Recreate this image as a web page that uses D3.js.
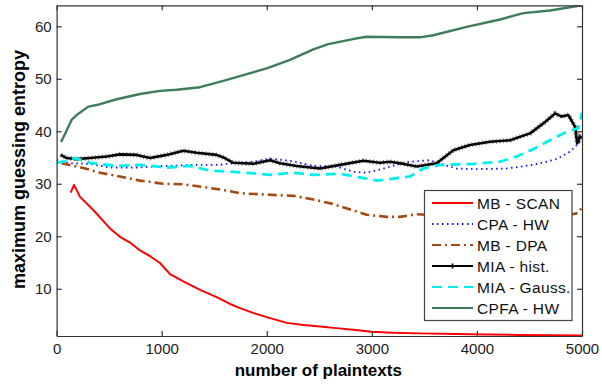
<!DOCTYPE html>
<html>
<head>
<meta charset="utf-8">
<script src="https://cdn.jsdelivr.net/npm/d3@7"></script>
<style>
  html, body { margin: 0; padding: 0; background: #fff; }
  svg { display: block; font-family: "Liberation Sans", Arial, sans-serif; }
</style>
</head>
<body>
<svg id="chart" width="602" height="385"></svg>
<script>
// Guessing entropy curves: [number of plaintexts, max guessing entropy]
const mbScan = [[134,28.3],[166,29.8],[223,27.5],[349,25.0],[508,21.5],[603,19.9],[699,18.8],[794,17.3],[889,16.2],[984,14.9],[1079,12.8],[1206,11.4],[1365,9.8],[1523,8.4],[1650,7.1],[1745,6.3],[1870,5.4],[1999,4.6],[2190,3.5],[2350,3.1],[2507,2.8],[2660,2.5],[2824,2.2],[2998,1.8],[3200,1.6],[3458,1.5],[3800,1.4],[4100,1.3],[4400,1.2],[4700,1.15],[5000,1.1]];
const cpaHw = [[0,34.5],[128,33.9],[318,33.8],[508,33.1],[762,33.1],[1048,33.4],[1301,33.6],[1555,33.6],[1618,33.8],[1872,34.2],[2031,34.8],[2250,34.3],[2443,33.4],[2665,33.3],[2824,32.3],[2951,32.1],[3110,32.9],[3268,33.8],[3363,34.2],[3553,34.5],[3649,33.8],[3808,32.9],[3998,32.8],[4284,32.9],[4536,33.6],[4759,34.7],[4886,36.1],[4965,37.7],[5000,38.5]];
const mbDpa = [[48,33.9],[254,33.0],[413,32.1],[603,31.4],[794,30.6],[1016,30.0],[1206,29.9],[1396,29.4],[1555,28.9],[1618,28.7],[1745,28.2],[2031,27.9],[2253,27.7],[2443,27.0],[2602,26.3],[2824,24.9],[2951,24.1],[3141,23.7],[3268,23.7],[3427,24.2],[3700,23.9],[4000,23.8],[4300,23.8],[4600,23.9],[4850,24.0],[4961,24.4],[5000,25.5]];
const miaHist = [[39,35.5],[96,34.9],[191,34.7],[318,34.9],[476,35.2],[603,35.6],[762,35.5],[889,34.9],[1048,35.5],[1206,36.3],[1333,35.9],[1523,35.5],[1600,34.9],[1682,34.0],[1872,33.8],[2031,34.5],[2126,33.9],[2285,33.4],[2507,32.9],[2697,33.6],[2919,34.4],[3078,34.0],[3173,34.2],[3268,33.9],[3427,33.3],[3617,33.9],[3776,36.4],[3934,37.4],[4125,38.0],[4315,38.3],[4506,39.6],[4632,41.5],[4744,43.4],[4807,42.8],[4870,43.1],[4933,40.9],[4955,37.7],[4978,39.0],[5000,38.7]];
const miaGauss = [[0,34.0],[64,34.2],[175,34.9],[318,34.0],[572,33.4],[794,33.6],[1048,33.1],[1270,33.4],[1460,32.5],[1650,32.3],[1872,32.0],[2031,31.7],[2253,32.1],[2443,31.7],[2697,31.9],[2887,31.2],[3046,30.6],[3205,31.0],[3363,31.4],[3490,32.9],[3649,33.6],[3967,33.8],[4220,34.2],[4379,35.2],[4537,36.6],[4696,38.3],[4854,39.9],[4965,40.6],[5000,43.5]];
const cpfaHw = [[40,38.0],[51,38.3],[144,42.2],[191,43.1],[302,44.7],[381,45.0],[572,46.1],[794,47.1],[984,47.7],[1143,47.9],[1365,48.4],[1587,49.6],[1777,50.7],[1999,52.0],[2221,53.6],[2443,55.6],[2586,56.6],[2633,56.8],[2856,57.7],[2951,58.0],[3268,57.9],[3458,57.9],[3585,58.3],[3903,59.9],[4220,61.3],[4442,62.5],[4696,63.0],[5000,64.0]];

const xTicks = [0, 1000, 2000, 3000, 4000, 5000];
const yTicks = [10, 20, 30, 40, 50, 60];
const seriesNames = ["MB - SCAN", "CPA - HW", "MB - DPA", "MIA - hist.", "MIA - Gauss.", "CPFA - HW"];

const svg = d3.select("#chart");
const plotLeft = 56.6, plotRight = 582, plotTop = 5.3, plotBottom = 336;

const x = d3.scaleLinear().domain([0, 5000]).range([plotLeft, plotRight]);
const y = d3.scaleLinear().domain([1, 64]).range([plotBottom, plotTop]);

const styles = [
  { data: mbScan,   color: "#ff0000", width: 2,   dash: null },
  { data: cpaHw,    color: "#1010ff", width: 1.8, dash: "1.5,3.5" },
  { data: mbDpa,    color: "#a8470f", width: 2.6, dash: "9,4,2,4" },
  { data: miaHist,  color: "#000000", width: 2.6, dash: null, marker: true },
  { data: miaGauss, color: "#00f0f0", width: 2.8, dash: "10,6" },
  { data: cpfaHw,   color: "#3d7d5c", width: 2.4, dash: null }
];

const line = d3.line().x(d => x(d[0])).y(d => y(d[1]));

svg.append("defs").append("clipPath").attr("id", "clip")
  .append("rect").attr("x", plotLeft).attr("y", plotTop)
  .attr("width", plotRight - plotLeft).attr("height", plotBottom - plotTop);

const curves = svg.append("g").attr("clip-path", "url(#clip)");
styles.forEach(s => {
  const p = curves.append("path")
    .datum(s.data)
    .attr("d", line)
    .attr("fill", "none")
    .attr("stroke", s.color)
    .attr("stroke-width", s.width)
    .attr("stroke-linejoin", "round");
  if (s.dash) p.attr("stroke-dasharray", s.dash);
  if (s.marker) {
    // dense "+" markers give the hist. curve its fuzzy look
    curves.append("path")
      .datum(s.data)
      .attr("d", line)
      .attr("fill", "none")
      .attr("stroke", "#222")
      .attr("stroke-width", 5)
      .attr("stroke-dasharray", "1,2.5")
      .attr("opacity", 0.55);
  }
});

// Axes box with inward ticks on all four sides
const axisColor = "#333";
const xAxisB = d3.axisBottom(x).tickValues(xTicks).tickFormat(d3.format("d"))
  .tickSizeInner(-5).tickSizeOuter(0).tickPadding(7);
const xAxisT = d3.axisTop(x).tickValues(xTicks).tickSizeInner(-5).tickSizeOuter(0).tickFormat("");
const yAxisL = d3.axisLeft(y).tickValues(yTicks).tickFormat(d3.format("d"))
  .tickSizeInner(-5).tickSizeOuter(0).tickPadding(5);
const yAxisR = d3.axisRight(y).tickValues(yTicks).tickSizeInner(-5).tickSizeOuter(0).tickFormat("");

const gB = svg.append("g").attr("transform", `translate(0,${plotBottom})`).call(xAxisB);
const gT = svg.append("g").attr("transform", `translate(0,${plotTop})`).call(xAxisT);
const gL = svg.append("g").attr("transform", `translate(${plotLeft},0)`).call(yAxisL);
const gR = svg.append("g").attr("transform", `translate(${plotRight},0)`).call(yAxisR);
[gB, gT, gL, gR].forEach(g => {
  g.selectAll(".domain").attr("stroke", axisColor).attr("stroke-width", 1.2);
  g.selectAll(".tick line").attr("stroke", axisColor).attr("stroke-width", 1.2);
  g.selectAll(".tick text").attr("fill", "#222").style("font-size", "15px")
    .style("font-family", "'Liberation Sans', Arial, sans-serif");
});

// Axis titles
svg.append("text")
  .attr("x", (plotLeft + plotRight) / 2 - 1).attr("y", 376)
  .attr("text-anchor", "middle")
  .style("font-size", "17px").style("font-weight", "bold").attr("fill", "#000")
  .text("number of plaintexts");
svg.append("text")
  .attr("transform", `translate(25,${(52 + 287) / 2}) rotate(-90)`)
  .attr("text-anchor", "middle")
  .style("font-size", "18px").style("font-weight", "bold").attr("fill", "#000")
  .text("maximum guessing entropy");

// Legend
const lg = svg.append("g");
lg.append("rect")
  .attr("x", 424.5).attr("y", 190.5).attr("width", 147.5).attr("height", 130)
  .attr("fill", "#fff").attr("stroke", "#444").attr("stroke-width", 1.2);
const rowY = d3.scalePoint().domain(seriesNames).range([203, 308]);
seriesNames.forEach((name, i) => {
  const s = styles[i];
  const yy = rowY(name);
  const l = lg.append("line")
    .attr("x1", 432).attr("x2", 473).attr("y1", yy).attr("y2", yy)
    .attr("stroke", s.color).attr("stroke-width", Math.min(s.width, 2));
  if (s.dash) l.attr("stroke-dasharray", s.dash);
  if (s.marker) {
    lg.append("path")
      .attr("d", d3.symbol(d3.symbolCross, 14)())
      .attr("transform", `translate(452.5,${yy})`)
      .attr("fill", "#000");
  }
  lg.append("text")
    .attr("x", 477).attr("y", yy).attr("dy", "0.36em")
    .style("font-size", "15.5px").style("letter-spacing", "0.35px").attr("fill", "#111")
    .text(name);
});
</script>
</body>
</html>
